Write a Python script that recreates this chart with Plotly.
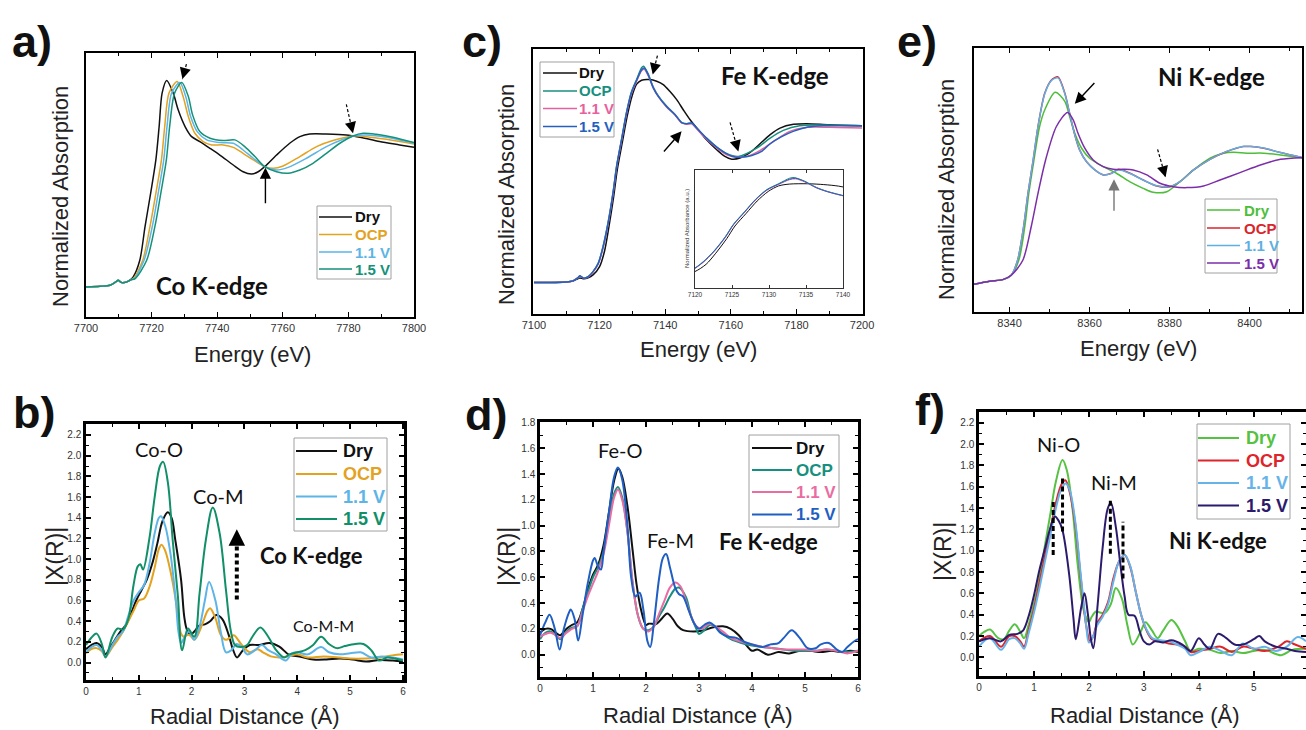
import plotly.graph_objects as go

W, H = 1306, 730


def px(x):
    return x / W


def py(y):
    return 1 - y / H


labels = ["Dry", "OCP", "1.1 V", "1.5 V"]

# ---------------- Panel a: Co K-edge XANES ----------------
co_xanes_e_dry = [7700, 7704.3, 7707.3, 7709.3, 7709.8, 7710.9, 7712.4, 7713.6, 7714.4, 7716.4, 7718.0, 7719.7,
                  7721.3, 7722.3, 7723.2, 7724.6, 7726.6, 7728.1, 7730.2, 7732.2, 7734.7, 7737.8, 7740.8, 7744.9,
                  7747.9, 7750.5, 7752.5, 7754.5, 7758.1, 7762.1, 7765.2, 7768.2, 7773.3, 7779.4, 7783.5, 7789.5,
                  7795.6, 7800]
co_xanes_dry = [0, .005, .012, .04, .048, .031, .036, .052, .071, .19, .43, .667, .905, 1.143, 1.381, 1.471, 1.381,
                1.262, 1.143, 1.071, 1.036, .988, .94, .869, .821, .805, .821, .857, .94, 1.024, 1.071, 1.09, 1.09,
                1.083, 1.067, 1.036, 1.012, .995]
co_xanes_e_ocp = [7700, 7704.3, 7707.3, 7709.3, 7709.8, 7710.9, 7712.4, 7713.6, 7714.6, 7717.3, 7719.5, 7721.3,
                  7723.0, 7724.0, 7725.3, 7727.8, 7729.6, 7731.2, 7733.2, 7735.7, 7738.3, 7741.8, 7744.9, 7747.9,
                  7751.0, 7754.5, 7757.1, 7760.1, 7765.2, 7770.3, 7775.3, 7781.4, 7785.5, 7791.6, 7800]
co_xanes_ocp = [0, .005, .012, .04, .048, .031, .036, .05, .065, .19, .43, .667, .905, 1.143, 1.381, 1.464, 1.357,
                1.214, 1.095, 1.036, 1.012, 1.012, .995, .952, .905, .857, .845, .862, .929, 1.0, 1.043, 1.076, 1.071,
                1.052, 1.019]
co_xanes_e_11 = [7700, 7704.3, 7707.3, 7709.3, 7709.8, 7710.9, 7712.4, 7713.6, 7714.8, 7717.7, 7720.2, 7722.0,
                 7723.7, 7724.7, 7726.1, 7728.6, 7730.4, 7731.9, 7733.9, 7736.8, 7740.8, 7744.9, 7747.9, 7751.0,
                 7754.5, 7758.1, 7761.6, 7767.2, 7773.3, 7778.4, 7781.4, 7785.5, 7791.6, 7800]
co_xanes_11 = [0, .005, .012, .04, .048, .031, .036, .05, .062, .19, .43, .667, .905, 1.143, 1.381, 1.457, 1.357,
               1.214, 1.107, 1.048, 1.029, 1.024, .976, .917, .857, .833, .852, .917, 1.0, 1.052, 1.076, 1.083, 1.067,
               1.024]
co_xanes_e_15 = [7700, 7704.3, 7707.3, 7709.3, 7709.8, 7710.9, 7712.4, 7713.6, 7715.0, 7718.5, 7721.0, 7722.8,
                 7724.5, 7725.5, 7727.0, 7729.2, 7731.2, 7732.5, 7734.7, 7737.8, 7741.8, 7745.4, 7748.4, 7751.5,
                 7754.5, 7758.1, 7761.6, 7765.2, 7769.2, 7773.3, 7777.4, 7781.4, 7784.5, 7788.5, 7793.6, 7800]
co_xanes_15 = [0, .005, .012, .04, .048, .031, .036, .05, .06, .19, .43, .667, .905, 1.143, 1.381, 1.457, 1.357,
               1.226, 1.107, 1.06, 1.043, 1.048, 1.0, .929, .857, .821, .81, .833, .881, .952, 1.024, 1.076, 1.095,
               1.088, 1.067, 1.029]

# ---------------- Panel c: Fe K-edge XANES ----------------
fe_xanes_e_dry = [7100, 7109.9, 7111.9, 7113.4, 7114.0, 7115.2, 7116.5, 7118.0, 7120.0, 7121.5, 7122.8, 7124.3,
                  7125.4, 7126.9, 7128.4, 7129.9, 7131.3, 7132.8, 7135.3, 7137.4, 7139.4, 7141.4, 7143.5, 7145.5,
                  7147.6, 7150.1, 7152.6, 7155.7, 7158.2, 7160.3, 7162.8, 7165.9, 7168.9, 7172.0, 7175.0, 7179.1,
                  7183.2, 7190.0, 7200]
fe_xanes_dry = [0, .004, .01, .025, .03, .024, .03, .049, .102, .2, .35, .55, .72, .89, 1.06, 1.19, 1.265, 1.29,
                1.294, 1.283, 1.262, 1.219, 1.166, 1.102, 1.038, .974, .91, .847, .804, .787, .794, .83, .885, .943,
                .985, 1.009, 1.013, 1.006, 1.0]
fe_xanes_e_ocp = [7100, 7109.9, 7111.9, 7113.4, 7114.0, 7115.2, 7116.5, 7118.0, 7119.6, 7121.1, 7122.6, 7124.1,
                  7125.2, 7126.7, 7128.2, 7129.7, 7131.3, 7132.8, 7133.4, 7134.8, 7136.4, 7137.9, 7140.4, 7143.0,
                  7145.0, 7146.5, 7148.1, 7149.6, 7152.6, 7155.7, 7158.8, 7162.3, 7167.9, 7172.0, 7176.0, 7181.0,
                  7188.0, 7200]
fe_xanes_ocp = [0, .004, .011, .03, .04, .028, .036, .07, .125, .235, .385, .575, .745, .915, 1.085, 1.215, 1.295,
                1.37, 1.379, 1.33, 1.245, 1.19, 1.125, 1.072, 1.022, 1.012, 1.015, .985, .921, .864, .821, .804, .857,
                .921, .97, 1.0, 1.004, 1.0]
fe_xanes_e_11 = [7100, 7109.9, 7111.9, 7113.4, 7114.0, 7115.2, 7116.5, 7118.0, 7119.6, 7121.1, 7122.6, 7124.1,
                 7125.2, 7126.7, 7128.2, 7129.7, 7131.3, 7132.8, 7133.6, 7134.8, 7136.4, 7137.9, 7140.4, 7143.0,
                 7145.0, 7146.5, 7148.1, 7149.6, 7152.6, 7155.7, 7158.8, 7162.0, 7165.0, 7169.0, 7173.0, 7178.0,
                 7183.0, 7190.0, 7200]
fe_xanes_11 = [0, .004, .011, .03, .04, .028, .036, .068, .12, .225, .375, .565, .735, .905, 1.075, 1.205, 1.285,
               1.35, 1.36, 1.32, 1.24, 1.185, 1.12, 1.068, 1.018, 1.01, 1.012, .98, .915, .858, .815, .8, .806, .843,
               .9, .964, .989, .99, .985]
fe_xanes_e_15 = [7100, 7109.9, 7111.9, 7113.4, 7114.0, 7115.2, 7116.5, 7118.0, 7119.6, 7121.1, 7122.6, 7124.1,
                 7125.2, 7126.7, 7128.2, 7129.7, 7131.3, 7132.8, 7133.6, 7134.8, 7136.4, 7137.9, 7140.4, 7143.0,
                 7145.0, 7146.5, 7148.1, 7149.6, 7152.6, 7155.7, 7158.8, 7161.3, 7163.8, 7166.4, 7169.4, 7172.0,
                 7175.5, 7179.0, 7183.5, 7188.3, 7194.0, 7200]
fe_xanes_15 = [0, .004, .011, .032, .043, .028, .038, .07, .123, .23, .38, .57, .74, .91, 1.08, 1.21, 1.29, 1.357,
               1.368, 1.326, 1.24, 1.187, 1.123, 1.07, 1.02, 1.013, 1.017, .985, .921, .864, .821, .8, .8, .81, .836,
               .885, .93, .964, .992, 1.0, 1.0, 1.0]

# ---------------- Panel e: Ni K-edge XANES ----------------
ni_xanes_e_dry = [8331.1, 8335.0, 8338.3, 8340.4, 8342.3, 8343.8, 8344.8, 8346.1, 8347.5, 8348.8, 8351.4, 8353.8,
                  8355.0, 8356.3, 8358.0, 8360.0, 8363.4, 8366.7, 8370.0, 8373.4, 8375.9, 8379.3, 8382.6, 8386.0,
                  8390.1, 8393.5, 8396.0, 8399.3, 8403.5, 8407.7, 8413.1]
ni_xanes_dry = [0, .024, .037, .071, .189, .453, .716, .979, 1.242, 1.374, 1.511, 1.44, 1.321, 1.189, 1.071, .992,
                .926, .874, .808, .755, .724, .729, .808, .9, .992, 1.032, 1.039, 1.032, 1.032, 1.018, .997]
ni_xanes_e_ocp = [8331.1, 8335.0, 8338.3, 8340.4, 8342.0, 8343.5, 8344.6, 8345.9, 8347.1, 8348.8, 8350.5, 8352.1,
                  8353.8, 8355.0, 8356.3, 8357.5, 8359.2, 8361.3, 8363.4, 8365.5, 8367.2, 8370.1, 8373.4, 8376.8,
                  8380.1, 8382.6, 8386.0, 8390.1, 8394.3, 8398.5, 8400.2, 8403.5, 8407.7, 8413.1]
ni_xanes_ocp = [0, .024, .037, .071, .189, .453, .716, .979, 1.242, 1.505, 1.61, 1.632, 1.505, 1.347, 1.176, 1.058,
                .966, .9, .861, .874, .905, .874, .821, .774, .768, .808, .9, .984, 1.045, 1.084, 1.084, 1.071, 1.037,
                .997]
ni_xanes_e_11 = [8331.1, 8335.0, 8338.3, 8340.4, 8342.0, 8343.5, 8344.6, 8345.9, 8347.1, 8348.8, 8350.5, 8352.1,
                 8353.8, 8355.0, 8356.3, 8357.5, 8359.2, 8361.3, 8363.4, 8365.5, 8367.2, 8370.1, 8373.4, 8376.8,
                 8380.1, 8382.6, 8386.0, 8390.1, 8394.3, 8398.5, 8400.2, 8403.5, 8407.7, 8413.1]
ni_xanes_11 = [0, .024, .037, .071, .189, .453, .716, .979, 1.242, 1.5, 1.605, 1.625, 1.5, 1.345, 1.176, 1.058,
               .966, .9, .862, .873, .902, .872, .82, .775, .77, .808, .9, .984, 1.046, 1.086, 1.086, 1.072, 1.037,
               .997]
ni_xanes_e_15 = [8331.1, 8335.0, 8338.3, 8340.4, 8343.3, 8345.4, 8347.1, 8349.0, 8351.7, 8354.5, 8355.9, 8357.1,
                 8358.8, 8360.9, 8363.4, 8365.9, 8368.4, 8370.9, 8374.3, 8377.6, 8380.9, 8384.3, 8388.5, 8392.6,
                 8397.6, 8402.7, 8407.7, 8413.1]
ni_xanes_15 = [0, .024, .037, .071, .189, .453, .716, .979, 1.242, 1.353, 1.295, 1.189, 1.071, .979, .926, .905,
               .905, .9, .861, .795, .768, .761, .774, .821, .879, .939, .984, .997]

# ---------------- Panel b: Co EXAFS |X(R)| ----------------
co_r_dry = [0, 0.1, 0.2, 0.3, 0.37, 0.45, 0.55, 0.65, 0.75, 0.85, 0.95, 1.05, 1.15, 1.25, 1.35, 1.45, 1.55, 1.62,
            1.69, 1.8, 1.86, 1.91, 1.98, 2.05, 2.15, 2.25, 2.35, 2.47, 2.58, 2.7, 2.78, 2.86, 2.97, 3.1, 3.28, 3.47,
            3.66, 3.85, 4.04, 4.3, 4.55, 4.8, 5.05, 5.3, 5.56, 5.81, 6.0]
co_chi_dry = [.13, .17, .19, .15, .08, .14, .22, .3, .36, .47, .6, .7, .8, .95, 1.15, 1.37, 1.452, 1.4, 1.187, .8,
              .445, .32, .27, .3, .36, .37, .4, .46, .42, .27, .13, .05, .12, .17, .17, .19, .155, .074, .06, .03,
              .03, .04, .03, .01, .026, .02, .01]
co_r_ocp = [0, 0.1, 0.2, 0.3, 0.37, 0.5, 0.6, 0.7, 0.8, 0.9, 1.0, 1.1, 1.2, 1.3, 1.38, 1.43, 1.5, 1.6, 1.7, 1.75,
            1.8, 1.85, 1.95, 2.05, 2.1, 2.2, 2.3, 2.35, 2.45, 2.55, 2.65, 2.75, 2.8, 2.95, 3.1, 3.25, 3.35, 3.5, 3.7,
            3.9, 4.0, 4.2, 4.5, 4.8, 5.0, 5.3, 5.6, 5.8, 6.0]
co_chi_ocp = [.09, .13, .14, .11, .06, .15, .22, .3, .4, .5, .6, .62, .73, .92, 1.1, 1.14, 1.08, .88, .6, .42, .28,
              .25, .27, .22, .25, .37, .5, .525, .43, .27, .22, .25, .265, .17, .1, .13, .1, .06, .05, .07, .08, .05,
              .06, .05, .04, .04, .05, .07, .08]
co_r_11 = [0, 0.1, 0.2, 0.3, 0.37, 0.5, 0.6, 0.7, 0.8, 0.9, 1.0, 1.1, 1.2, 1.3, 1.38, 1.42, 1.5, 1.6, 1.7, 1.75, 1.8,
           1.87, 1.95, 2.05, 2.15, 2.25, 2.33, 2.45, 2.55, 2.65, 2.75, 2.85, 2.95, 3.05, 3.2, 3.33, 3.45, 3.6, 3.78,
           3.9, 4.0, 4.2, 4.45, 4.6, 4.8, 5.0, 5.2, 5.4, 5.6, 5.8, 6.0]
co_chi_11 = [.1, .15, .17, .12, .06, .17, .25, .3, .45, .6, .68, .75, .95, 1.25, 1.4, 1.415, 1.32, 1.05, .6, .3,
             .19, .25, .3, .22, .35, .6, .78, .6, .3, .1, .12, .18, .15, .08, .12, .17, .12, .08, .02, .09, .1, .08,
             .15, .1, .08, .09, .1, .05, .06, .05, .03]
co_r_15 = [0, 0.1, 0.2, 0.3, 0.37, 0.5, 0.6, 0.7, 0.8, 0.9, 0.98, 1.03, 1.08, 1.2, 1.3, 1.4, 1.46, 1.55, 1.64, 1.74,
           1.82, 1.93, 2.05, 2.15, 2.27, 2.4, 2.53, 2.65, 2.74, 2.82, 2.92, 3.05, 3.15, 3.3, 3.45, 3.6, 3.75, 3.85,
           4.0, 4.15, 4.3, 4.45, 4.6, 4.75, 4.9, 5.1, 5.25, 5.4, 5.55, 5.7, 5.85, 6.0]
co_chi_15 = [.17, .24, .28, .18, .05, .25, .33, .32, .42, .75, .93, .95, .9, 1.2, 1.6, 1.9, 1.94, 1.74, 1.19, .64,
             .12, .33, .25, .67, 1.19, 1.5, 1.25, .7, .31, .17, .15, .17, .25, .34, .25, .12, .05, .08, .1, .12, .17,
             .25, .18, .14, .16, .18, .18, .12, .02, .05, .04, .02]

# ---------------- Panel d: Fe EXAFS |X(R)| ----------------
fe_r_dry = [0, 0.1, 0.2, 0.3, 0.38, 0.5, 0.6, 0.7, 0.8, 0.9, 1.0, 1.1, 1.2, 1.3, 1.4, 1.48, 1.55, 1.65, 1.75, 1.82,
            1.9, 2.0, 2.05, 2.2, 2.3, 2.4, 2.5, 2.6, 2.7, 2.9, 3.1, 3.25, 3.45, 3.6, 3.75, 3.9, 4.0, 4.1, 4.3, 4.5,
            4.7, 4.9, 5.1, 5.3, 5.5, 5.7, 5.85, 6.0]
fe_chi_dry = [.17, .2, .2, .17, .15, .2, .23, .25, .35, .5, .62, .7, .85, 1.1, 1.35, 1.44, 1.38, 1.15, .8, .55, .36,
              .23, .24, .24, .28, .32, .28, .22, .19, .18, .19, .21, .22, .2, .15, .07, .03, .04, 0.0, .02, .01, .03,
              .03, .02, .03, .02, .03, .02]
fe_r_ocp = [0, 0.1, 0.2, 0.3, 0.38, 0.5, 0.6, 0.7, 0.8, 0.9, 1.0, 1.1, 1.2, 1.3, 1.4, 1.47, 1.55, 1.65, 1.75, 1.85,
            1.95, 2.05, 2.15, 2.25, 2.35, 2.45, 2.55, 2.62, 2.75, 2.85, 2.95, 3.0, 3.1, 3.2, 3.3, 3.45, 3.6, 3.8, 4.0,
            4.2, 4.4, 4.6, 4.8, 5.0, 5.2, 5.4, 5.6, 5.75, 6.0]
fe_chi_ocp = [.12, .17, .18, .15, .12, .18, .21, .22, .35, .48, .6, .68, .8, 1.05, 1.25, 1.3, 1.22, .95, .55, .3,
              .2, .19, .22, .3, .37, .45, .51, .52, .45, .3, .2, .16, .19, .23, .22, .16, .12, .09, .07, .06, .05,
              .04, .03, .03, .03, .04, .03, .02, .03]
fe_r_11 = [0, 0.1, 0.2, 0.3, 0.38, 0.5, 0.6, 0.7, 0.8, 0.9, 1.0, 1.1, 1.2, 1.3, 1.4, 1.47, 1.55, 1.65, 1.75, 1.85,
           1.95, 2.05, 2.15, 2.25, 2.35, 2.45, 2.55, 2.65, 2.75, 2.85, 2.95, 3.05, 3.2, 3.3, 3.45, 3.6, 3.8, 4.0, 4.2,
           4.4, 4.6, 4.8, 5.0, 5.2, 5.4, 5.6, 5.8, 6.0]
fe_chi_11 = [.14, .16, .17, .15, .13, .17, .2, .22, .33, .45, .55, .65, .78, 1.0, 1.22, 1.28, 1.2, .95, .55, .3, .2,
             .18, .22, .32, .42, .52, .56, .53, .42, .3, .22, .2, .24, .22, .18, .13, .1, .08, .06, .05, .04, .04,
             .04, .03, .04, .03, .01, .03]
fe_r_15 = [0, 0.1, 0.18, 0.28, 0.37, 0.45, 0.55, 0.58, 0.65, 0.72, 0.8, 0.9, 1.0, 1.03, 1.1, 1.15, 1.2, 1.3, 1.4,
           1.47, 1.55, 1.65, 1.72, 1.8, 1.88, 1.95, 2.03, 2.08, 2.15, 2.25, 2.32, 2.38, 2.45, 2.55, 2.62, 2.7, 2.8,
           2.9, 3.0, 3.1, 3.2, 3.3, 3.4, 3.55, 3.7, 3.85, 4.0, 4.2, 4.35, 4.5, 4.6, 4.75, 4.9, 5.05, 5.2, 5.3, 5.45,
           5.6, 5.7, 5.8, 5.95, 6.0]
fe_chi_15 = [.15, .25, .31, .2, .04, .2, .33, .35, .28, .11, .3, .55, .73, .75, .68, .66, .8, 1.1, 1.38, 1.45, 1.36,
             1.0, .6, .45, .48, .35, .1, .06, .25, .6, .75, .78, .68, .52, .47, .45, .35, .25, .2, .23, .25, .22,
             .17, .14, .13, .1, .08, .06, .08, .09, .13, .19, .13, .05, .05, .08, .09, .04, .02, .06, .11, .12]

# ---------------- Panel f: Ni EXAFS |X(R)| ----------------
ni_r_dry = [0, 0.1, 0.2, 0.35, 0.45, 0.55, 0.65, 0.75, 0.82, 0.9, 1.0, 1.1, 1.2, 1.3, 1.4, 1.52, 1.6, 1.7, 1.8, 1.9,
            1.96, 2.0, 2.05, 2.13, 2.2, 2.3, 2.4, 2.49, 2.6, 2.7, 2.8, 2.95, 3.03, 3.15, 3.25, 3.35, 3.5, 3.6, 3.75,
            3.85, 4.0, 4.2, 4.4, 4.6, 4.8, 5.0, 5.2, 5.5, 5.7, 5.95]
ni_chi_dry = [.2, .24, .26, .18, .17, .25, .31, .24, .18, .3, .5, .75, 1.05, 1.35, 1.65, 1.85, 1.75, 1.4, .85, .45,
              .36, .33, .38, .43, .42, .42, .5, .65, .55, .3, .12, .25, .33, .25, .18, .25, .35, .3, .15, .06, .08,
              .07, .04, .06, .04, .06, .07, .02, .07, .08]
ni_r_ocp = [0, 0.2, 0.4, 0.55, 0.65, 0.75, 0.82, 0.9, 1.0, 1.1, 1.2, 1.3, 1.4, 1.5, 1.57, 1.65, 1.75, 1.85, 1.95,
            2.02, 2.08, 2.15, 2.25, 2.35, 2.45, 2.55, 2.65, 2.75, 2.85, 2.95, 3.05, 3.15, 3.3, 3.45, 3.6, 3.75, 3.85,
            4.0, 4.2, 4.4, 4.6, 4.8, 5.0, 5.2, 5.45, 5.6, 5.75, 5.95]
ni_chi_ocp = [.15, .2, .1, .2, .2, .15, .1, .25, .45, .7, .95, 1.2, 1.45, 1.62, 1.66, 1.55, 1.25, .75, .3, .15, .2,
              .32, .4, .52, .75, .9, .96, .85, .62, .4, .25, .17, .15, .13, .12, .1, .05, .06, .08, .1, .05, .1, .08,
              .06, .1, .15, .12, .08]
ni_r_11 = [0, 0.2, 0.4, 0.55, 0.65, 0.75, 0.82, 0.9, 1.0, 1.1, 1.2, 1.3, 1.4, 1.5, 1.58, 1.65, 1.75, 1.85, 1.95, 2.0,
           2.08, 2.15, 2.25, 2.35, 2.45, 2.55, 2.65, 2.75, 2.85, 2.95, 3.05, 3.15, 3.3, 3.45, 3.6, 3.75, 3.85, 4.0,
           4.2, 4.4, 4.6, 4.8, 5.0, 5.2, 5.4, 5.6, 5.8, 5.95]
ni_chi_11 = [.1, .18, .07, .17, .18, .13, .08, .22, .42, .65, .9, 1.15, 1.4, 1.58, 1.63, 1.57, 1.28, .78, .3, .14,
             .2, .3, .38, .5, .72, .9, .96, .86, .62, .4, .26, .18, .16, .15, .12, .08, .02, .05, .1, .06, .02, .13,
             .08, .1, .06, .1, .19, .15]
ni_r_15 = [0, 0.2, 0.4, 0.55, 0.7, 0.8, 0.9, 1.0, 1.1, 1.2, 1.3, 1.38, 1.45, 1.52, 1.64, 1.72, 1.76, 1.86, 1.92,
           1.98, 2.04, 2.08, 2.16, 2.25, 2.34, 2.4, 2.49, 2.57, 2.65, 2.72, 2.83, 2.92, 3.0, 3.1, 3.2, 3.35, 3.5, 3.7,
           3.85, 4.0, 4.1, 4.2, 4.35, 4.5, 4.65, 4.8, 5.0, 5.1, 5.2, 5.4, 5.6, 5.75, 5.95]
ni_chi_15 = [.15, .18, .15, .21, .22, .25, .38, .58, .82, 1.02, 1.22, 1.32, 1.28, 1.19, .78, .36, .17, .47, .6, .41,
             .16, .085, .5, 1.03, 1.39, 1.45, 1.22, .88, .57, .4, .39, .25, .15, .12, .15, .14, .16, .12, .06, .18,
             .12, .08, .22, .18, .12, .12, .17, .2, .15, .1, .08, .06, .05]

# ---------------- colours ----------------
co_colors = ["#111111", "#E3A21F", "#5DB4E6", "#15917A"]
fe_colors = ["#111111", "#178F80", "#E8619C", "#2461BF"]
ni_xanes_colors = ["#4DBE3A", "#D9252B", "#5EAFE3", "#7B2EA8"]
co_exafs_colors = ["#111111", "#E3A21F", "#5DB4E6", "#108F68"]
fe_exafs_colors = ["#111111", "#178F80", "#E96CA3", "#1F5EC2"]
ni_exafs_colors = ["#55C241", "#DE252B", "#66B3E9", "#2C1A6C"]

FONT = "Liberation Sans"
LABFONT = "Lato"

fig = go.Figure()


def add_panel(xs, ys, colors, xa, ya, width, smoothing):
    for lab, x, y, c in zip(labels, xs, ys, colors):
        fig.add_trace(go.Scatter(
            x=x, y=y, mode="lines", name=lab,
            line=dict(color=c, width=width, shape="spline", smoothing=smoothing),
            xaxis=xa, yaxis=ya, showlegend=False, hoverinfo="skip"))


add_panel([co_xanes_e_dry, co_xanes_e_ocp, co_xanes_e_11, co_xanes_e_15],
          [co_xanes_dry, co_xanes_ocp, co_xanes_11, co_xanes_15], co_colors, "x", "y", 1.5, 0.8)
add_panel([fe_xanes_e_dry, fe_xanes_e_ocp, fe_xanes_e_11, fe_xanes_e_15],
          [fe_xanes_dry, fe_xanes_ocp, fe_xanes_11, fe_xanes_15], fe_colors, "x2", "y2", 1.5, 0.8)
add_panel([ni_xanes_e_dry, ni_xanes_e_ocp, ni_xanes_e_11, ni_xanes_e_15],
          [ni_xanes_dry, ni_xanes_ocp, ni_xanes_11, ni_xanes_15], ni_xanes_colors, "x3", "y3", 1.5, 0.8)
add_panel([co_r_dry, co_r_ocp, co_r_11, co_r_15],
          [co_chi_dry, co_chi_ocp, co_chi_11, co_chi_15], co_exafs_colors, "x4", "y4", 2, 1.0)
add_panel([fe_r_dry, fe_r_ocp, fe_r_11, fe_r_15],
          [fe_chi_dry, fe_chi_ocp, fe_chi_11, fe_chi_15], fe_exafs_colors, "x5", "y5", 2, 1.0)
add_panel([ni_r_dry, ni_r_ocp, ni_r_11, ni_r_15],
          [ni_chi_dry, ni_chi_ocp, ni_chi_11, ni_chi_15], ni_exafs_colors, "x6", "y6", 2, 1.0)
# inset of panel c (same Fe XANES data, zoomed)
add_panel([fe_xanes_e_dry, fe_xanes_e_ocp, fe_xanes_e_11, fe_xanes_e_15],
          [fe_xanes_dry, fe_xanes_ocp, fe_xanes_11, fe_xanes_15], fe_colors, "x7", "y7", 1.0, 0.8)

tickfont_big = dict(family=FONT, size=11, color="#333")
tickfont_small = dict(family=FONT, size=10, color="#333")


def xanes_axes(n, box, xr, yr, dtick, tick0):
    x0, y0, x1, y1 = box
    xk = "xaxis" if n == 1 else f"xaxis{n}"
    yk = "yaxis" if n == 1 else f"yaxis{n}"
    xs = "x" if n == 1 else f"x{n}"
    ys = "y" if n == 1 else f"y{n}"
    fig.layout[xk] = dict(domain=[px(x0), px(x1)], range=xr, anchor=ys, showline=True, linewidth=2,
                          linecolor="black", mirror="ticks", ticks="inside", ticklen=5, tickwidth=1.2,
                          tickcolor="black", dtick=dtick, tick0=tick0,
                          minor=dict(ticks="inside", ticklen=3, dtick=dtick / 2, tickwidth=1, tickcolor="black"),
                          tickfont=tickfont_big, showgrid=False, zeroline=False, automargin=False)
    fig.layout[yk] = dict(domain=[py(y1), py(y0)], range=yr, anchor=xs, showline=True, linewidth=2,
                          linecolor="black", mirror=True, ticks="", showticklabels=False, showgrid=False,
                          zeroline=False, automargin=False)


def exafs_axes(n, box, xr, yr):
    x0, y0, x1, y1 = box
    fig.layout[f"xaxis{n}"] = dict(domain=[px(x0), px(x1)], range=xr, anchor=f"y{n}", showline=True, linewidth=2.5,
                                   linecolor="black", mirror="ticks", ticks="inside", ticklen=5, tickwidth=1.5,
                                   tickcolor="black", dtick=1, tick0=0,
                                   minor=dict(ticks="inside", ticklen=3, dtick=0.5, tickwidth=1.2,
                                              tickcolor="black"),
                                   tickfont=tickfont_small, showgrid=False, zeroline=False, automargin=False)
    fig.layout[f"yaxis{n}"] = dict(domain=[py(y1), py(y0)], range=yr, anchor=f"x{n}", showline=True, linewidth=2.5,
                                   linecolor="black", mirror="ticks", ticks="inside", ticklen=5, tickwidth=1.5,
                                   tickcolor="black", dtick=0.2, tick0=0, tickformat=".1f",
                                   minor=dict(ticks="inside", ticklen=3, dtick=0.1, tickwidth=1.2,
                                              tickcolor="black"),
                                   tickfont=tickfont_small, showgrid=False, zeroline=False, automargin=False)


xanes_axes(1, (86, 53, 414, 317), [7700, 7800], [-0.214, 1.667], 20, 7700)
xanes_axes(2, (533, 49, 863, 314), [7099.7, 7200.3], [-0.2, 1.489], 20, 7100)
xanes_axes(3, (974, 48, 1302, 312), [8331.1, 8413.1], [-0.218, 1.86], 20, 8340)
exafs_axes(4, (86, 424, 404, 680), [0, 6.02], [-0.168, 2.306])
exafs_axes(5, (540, 422, 858, 677), [0, 6.0], [-0.173, 1.803])
exafs_axes(6, (979, 412, 1306, 676), [0, 5.95], [-0.175, 2.3])

# inset axes (panel c)
fig.layout["xaxis7"] = dict(domain=[px(695), px(843)], range=[7120, 7140], anchor="y7", showline=True, linewidth=1,
                            linecolor="#333", mirror="ticks", ticks="inside", ticklen=3, tickwidth=0.8,
                            tickcolor="#333", dtick=5, tick0=7120,
                            tickfont=dict(family=FONT, size=6.5, color="#333"), showgrid=False, zeroline=False,
                            automargin=False)
fig.layout["yaxis7"] = dict(domain=[py(288), py(170)], range=[-0.122, 1.481], anchor="x7", showline=True,
                            linewidth=1, linecolor="#333", mirror=True, ticks="", showticklabels=False,
                            showgrid=False, zeroline=False, automargin=False)

annotations = []
shapes = []


def text_paper(x, y, text, size, family=FONT, angle=0, color="#222", xanchor="center"):
    annotations.append(dict(x=px(x), y=py(y), xref="paper", yref="paper", text=text, showarrow=False,
                            font=dict(family=family, size=size, color=color), textangle=angle,
                            xanchor=xanchor, yanchor="middle"))


def text_data(xa, ya, x, y, text, size, bold=False, family=LABFONT):
    annotations.append(dict(x=x, y=y, xref=xa, yref=ya, text=f"<b>{text}</b>" if bold else text,
                            showarrow=False, font=dict(family=family, size=size, color="#111"),
                            xanchor="center", yanchor="middle"))


# legend boxes (drawn as keys: border, sample line, coloured label)
def legend_box(box, rows, line_x, text_x, size, colors, lw):
    x0, y0, x1, y1 = box
    shapes.append(dict(type="rect", xref="paper", yref="paper", x0=px(x0), x1=px(x1), y0=py(y1), y1=py(y0),
                       line=dict(color="#a0a0a0", width=1), fillcolor="white", layer="above"))
    for lab, yy, c in zip(labels, rows, colors):
        shapes.append(dict(type="line", xref="paper", yref="paper", x0=px(line_x[0]), x1=px(line_x[1]),
                           y0=py(yy), y1=py(yy), line=dict(color=c, width=lw), layer="above"))
        annotations.append(dict(x=px(text_x), y=py(yy), xref="paper", yref="paper", text=f"<b>{lab}</b>",
                                showarrow=False, font=dict(family=FONT, size=size, color=c),
                                xanchor="left", yanchor="middle"))


legend_box((317, 206, 391, 279), [217, 234.5, 252, 269], (319, 352), 353, 15, co_colors, 1.5)
legend_box((540, 62, 614, 137), [73, 91, 108.5, 126.5], (543, 577), 577, 15, fe_colors, 1.5)
legend_box((1205, 199, 1277, 273), [210, 228, 245.5, 263], (1207, 1240), 1242, 15, ni_xanes_colors, 1.5)
legend_box((294, 438, 387, 531), [451, 474, 496.5, 519], (296, 337), 341, 18, co_exafs_colors, 2)
legend_box((749, 435, 839, 527), [448, 470, 492, 514.5], (752, 792), 794, 17, fe_exafs_colors, 2)
legend_box((1197, 424, 1290, 519), [438, 460.5, 483, 505.5], (1198, 1239), 1244, 18, ni_exafs_colors, 2)

# panel letters
for lab, x, y in [("a)", 10, 42), ("c)", 460, 42), ("e)", 895, 42),
                  ("b)", 11, 412), ("d)", 463, 414), ("f)", 913, 409)]:
    text_paper(x, y, f"<b>{lab}</b>", 45, color="#111", xanchor="left")

# axis titles
for x, y in [(252, 354), (698, 350), (1138, 348)]:
    text_paper(x, y, "Energy (eV)", 22)
for x, y in [(60, 197), (507, 195), (947, 190)]:
    text_paper(x, y, "Normalized Absorption", 22, angle=-90)
for x, y in [(245, 716), (698, 715), (1145, 715)]:
    text_paper(x, y, "Radial Distance (Å)", 22)
for x, y in [(55, 557), (507, 557), (943, 552)]:
    text_paper(x, y, "|X(R)|", 23, angle=-90)
text_paper(687, 229, "Normalized Absorbance (a.u.)", 6, angle=-90, color="#333")

# in-plot labels
text_data("x", "y", 7738.3, 0.012, "Co K-edge", 24, bold=True)
text_data("x2", "y2", 7173.5, 1.319, "Fe K-edge", 24, bold=True)
text_data("x3", "y3", 8390.5, 1.637, "Ni K-edge", 24, bold=True)
text_data("x4", "y4", 1.39, 2.06, "Co-O", 20)
text_data("x4", "y4", 2.5, 1.61, "Co-M", 20)
text_data("x4", "y4", 4.49, 0.355, "Co-M-M", 16)
text_data("x4", "y4", 4.26, 1.04, "Co K-edge", 22, bold=True)
text_data("x5", "y5", 1.51, 1.588, "Fe-O", 20)
text_data("x5", "y5", 2.46, 0.891, "Fe-M", 20)
text_data("x5", "y5", 4.32, 0.878, "Fe K-edge", 22, bold=True)
text_data("x6", "y6", 1.45, 2.0, "Ni-O", 20)
text_data("x6", "y6", 2.46, 1.644, "Ni-M", 20)
text_data("x6", "y6", 4.35, 1.092, "Ni K-edge", 22, bold=True)


def arrow(xa, ya, hx, hy, dx, dy, dashed=False, color="black"):
    L = (dx * dx + dy * dy) ** 0.5
    if dashed:
        k = min(1.0, 9.0 / L)
        shapes.append(dict(type="line", xref=xa, yref=ya, xsizemode="pixel", ysizemode="pixel",
                           xanchor=hx, yanchor=hy, x0=dx, y0=-dy, x1=0, y1=0,
                           line=dict(color=color, width=1.2, dash="3px,2px")))
        ax, ay = dx * k, dy * k
    else:
        ax, ay = dx, dy
    annotations.append(dict(x=hx, y=hy, xref=xa, yref=ya, ax=ax, ay=ay, text="", showarrow=True,
                            arrowhead=2, arrowsize=1.6, arrowwidth=1.4, arrowcolor=color))


arrow("x", "y", 7729.4, 1.481, 4, -15, dashed=True)
arrow("x", "y", 7781.4, 1.095, -6.7, -29, dashed=True)
arrow("x", "y", 7754.7, 0.85, 0, 37)
arrow("x2", "y2", 7136.2, 1.326, 4.7, -19, dashed=True)
arrow("x2", "y2", 7145.0, 0.964, -19, 21.7)
arrow("x2", "y2", 7162.3, 0.836, -8.3, -29, dashed=True)
arrow("x3", "y3", 8356.3, 1.421, 21, -22.3)
arrow("x3", "y3", 8366.1, 0.826, 0, 33, color="#777")
arrow("x3", "y3", 8379.0, 0.842, -8, -28, dashed=True)

# dotted rising arrow in panel b
shapes.append(dict(type="line", xref="x4", yref="y4", x0=2.855, x1=2.855, y0=0.61, y1=1.2,
                   line=dict(color="black", width=4, dash="4px,3px")))
annotations.append(dict(x=2.855, y=1.29, xref="x4", yref="y4", ax=0, ay=10, text="", showarrow=True,
                        arrowhead=2, arrowsize=1.1, arrowwidth=3, arrowcolor="black"))

# dashed peak markers in panel f
for xv, ylo, yhi in [(1.35, 0.96, 1.47), (1.52, 1.18, 1.7), (2.39, 0.97, 1.49), (2.62, 0.74, 1.27)]:
    shapes.append(dict(type="line", xref="x6", yref="y6", x0=xv, x1=xv, y0=ylo, y1=yhi,
                       line=dict(color="black", width=3, dash="5px,3px")))

fig.update_layout(width=W, height=H, margin=dict(l=0, r=0, t=0, b=0, pad=0, autoexpand=False),
                  paper_bgcolor="white", plot_bgcolor="white", annotations=annotations, shapes=shapes,
                  showlegend=False, font=dict(family=FONT, color="#222"))

fig.write_html("out.html", config={"displayModeBar": False},
               post_script="document.body.style.margin='0px';")
